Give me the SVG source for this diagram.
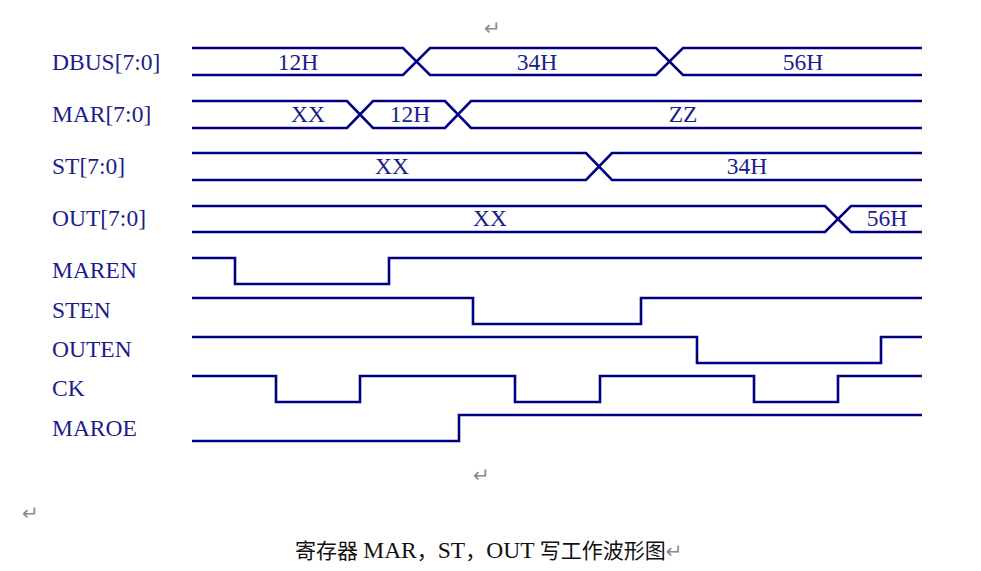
<svg xmlns="http://www.w3.org/2000/svg" width="981" height="571" viewBox="0 0 981 571">
<style>
.w{fill:none;stroke:#000080;stroke-width:2.6;stroke-linejoin:miter}
.lb{font-family:"Liberation Serif","Times New Roman",serif;font-size:23.5px;fill:#1c1c8a}
.v{font-family:"Liberation Serif","Times New Roman",serif;font-size:23.5px;fill:#1c1c8a;text-anchor:middle}
.r{font-family:"DejaVu Sans",sans-serif;font-size:20px;fill:#8a8a8a}
.cap{font-family:"Liberation Serif","Noto Sans CJK SC",serif;font-size:21px;fill:#111}
.lat{font-size:23.5px}
</style>
<rect width="981" height="571" fill="#fff"/>
<text class="r" x="484" y="35">↵</text>
<g id="labels">
<text class="lb" x="52" y="70">DBUS[7:0]</text>
<text class="lb" x="52" y="122">MAR[7:0]</text>
<text class="lb" x="52" y="174">ST[7:0]</text>
<text class="lb" x="52" y="226">OUT[7:0]</text>
<text class="lb" x="52" y="278">MAREN</text>
<text class="lb" x="52" y="318">STEN</text>
<text class="lb" x="52" y="357">OUTEN</text>
<text class="lb" x="52" y="396">CK</text>
<text class="lb" x="52" y="436">MAROE</text>
</g>
<g id="dbus">
<path class="w" d="M192,48 H403 L430,75 H656 L683,48 H922 M192,75 H403 L430,48 H656 L683,75 H922"/>
<text class="v" x="298" y="70">12H</text>
<text class="v" x="537" y="70">34H</text>
<text class="v" x="803" y="70">56H</text>
</g>
<g id="mar">
<path class="w" d="M192,101 H347 L373,128 H445 L471,101 H922 M192,128 H347 L373,101 H445 L471,128 H922"/>
<text class="v" x="308" y="122">XX</text>
<text class="v" x="410" y="122">12H</text>
<text class="v" x="683" y="122">ZZ</text>
</g>
<g id="st">
<path class="w" d="M192,153 H586 L612,180 H922 M192,180 H586 L612,153 H922"/>
<text class="v" x="392" y="174">XX</text>
<text class="v" x="747" y="174">34H</text>
</g>
<g id="out">
<path class="w" d="M192,206 H825 L851,232 H922 M192,232 H825 L851,206 H922"/>
<text class="v" x="490" y="226">XX</text>
<text class="v" x="887" y="226">56H</text>
</g>
<g id="maren"><path class="w" d="M192,258 H235 V284 H389 V258 H922"/></g>
<g id="sten"><path class="w" d="M192,298 H473 V324 H641 V298 H922"/></g>
<g id="outen"><path class="w" d="M192,337 H697 V363 H881 V337 H922"/></g>
<g id="ck"><path class="w" d="M192,376 H276 V402 H360 V376 H515 V402 H600 V376 H754 V402 H838 V376 H922"/></g>
<g id="maroe"><path class="w" d="M192,441 H459 V415 H922"/></g>
<text class="r" x="473" y="482">↵</text>
<text class="r" x="22" y="520">↵</text>
<text class="cap" x="295" y="558">寄存器 <tspan class="lat">MAR</tspan>，<tspan class="lat">ST</tspan>，<tspan class="lat">OUT</tspan> 写工作波形图<tspan class="r">↵</tspan></text>
</svg>
